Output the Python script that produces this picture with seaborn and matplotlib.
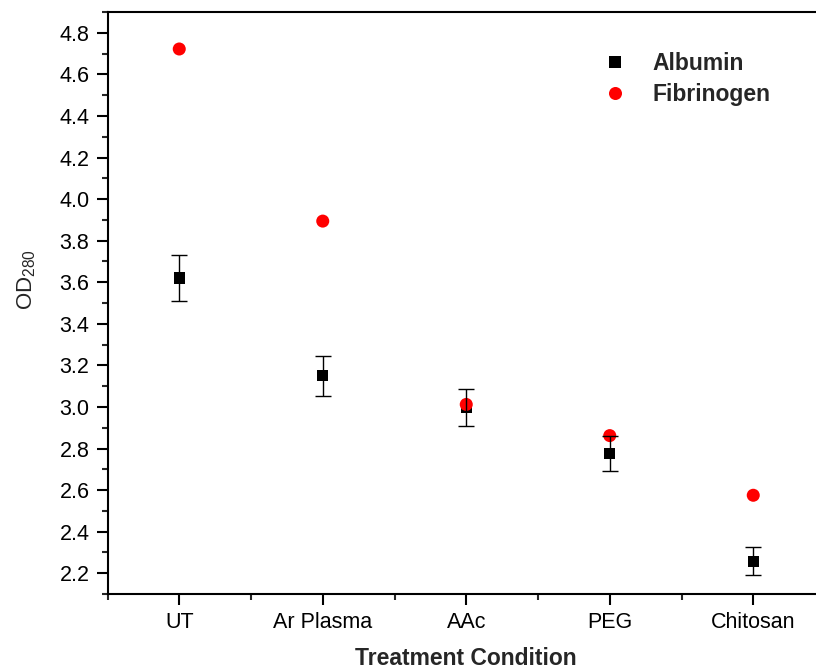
import numpy as np
import pandas as pd
import matplotlib
matplotlib.use("Agg")
import matplotlib.pyplot as plt
import seaborn as sns
from matplotlib.ticker import MultipleLocator, FixedLocator

# ---- data ----
conditions = ["UT", "Ar Plasma", "AAc", "PEG", "Chitosan"]
albumin = [3.620, 3.150, 2.997, 2.776, 2.258]
albumin_err = [0.109, 0.097, 0.090, 0.082, 0.068]
fibrinogen = [4.722, 3.894, 3.012, 2.862, 2.575]
series_names = ["Albumin", "Fibrinogen"]

sns.set_style("ticks")
plt.rcParams["font.family"] = ["Liberation Sans", "DejaVu Sans"]
plt.rcParams["mathtext.fontset"] = "custom"
plt.rcParams["mathtext.rm"] = "Liberation Sans"
plt.rcParams["mathtext.it"] = "Liberation Sans:italic"
plt.rcParams["mathtext.bf"] = "Liberation Sans:bold"

df = pd.DataFrame({
    "Condition": conditions * 2,
    "OD": albumin + fibrinogen,
    "Protein": [series_names[0]] * len(conditions) + [series_names[1]] * len(conditions),
})

fig = plt.figure(figsize=(8.16, 6.72), dpi=100)
ax = fig.add_axes([107.5 / 816, 78 / 672, 717.5 / 816, 582 / 672])

sns.scatterplot(
    data=df, x="Condition", y="OD",
    hue="Protein", style="Protein", size="Protein",
    palette={"Albumin": "black", "Fibrinogen": "#ff0000"},
    markers={"Albumin": "s", "Fibrinogen": "o"},
    sizes={"Albumin": 66, "Fibrinogen": 88},
    linewidth=0, ax=ax, legend=True,
)
ax.errorbar(conditions, albumin, yerr=albumin_err, fmt="none",
            ecolor="black", elinewidth=1.0, capsize=5.5, capthick=1.0)

ax.set_xlim(-0.5, 4.5)
ax.set_ylim(2.1, 4.9)
ax.yaxis.set_major_locator(MultipleLocator(0.2))
ax.yaxis.set_minor_locator(MultipleLocator(0.1))
ax.xaxis.set_minor_locator(FixedLocator(np.arange(-0.5, 5.0, 1.0)))
ax.yaxis.set_major_formatter(matplotlib.ticker.FormatStrFormatter("%.1f"))

for s in ["left", "bottom", "top"]:
    ax.spines[s].set_linewidth(1.5)
    ax.spines[s].set_color("black")
ax.spines["right"].set_visible(False)

ax.tick_params(axis="both", which="major", direction="out", length=8, width=1.5,
               labelsize=15.5, colors="black")
ax.tick_params(axis="both", which="minor", direction="out", length=4, width=1.5)
ax.tick_params(axis="y", which="major", pad=5)
ax.tick_params(axis="x", which="major", pad=5)

ax.set_xlabel("Treatment Condition", fontsize=16.5, fontweight="bold", labelpad=10)
ax.set_ylabel("")
fig.text(27 / 816, 1 - 280 / 672, r"OD$_{\mathrm{280}}$", rotation=90,
         ha="center", va="center", fontsize=16)

handles, labels = ax.get_legend_handles_labels()
ax.legend(handles, labels, loc="upper left",
          bbox_to_anchor=(603.5 / 816, 1 - 52 / 672), bbox_transform=fig.transFigure,
          frameon=False, borderpad=0, borderaxespad=0,
          handlelength=1.0, handletextpad=1.15, labelspacing=0.33,
          prop={"size": 16.5, "weight": "bold"})

fig.savefig("out.png", dpi=100)
